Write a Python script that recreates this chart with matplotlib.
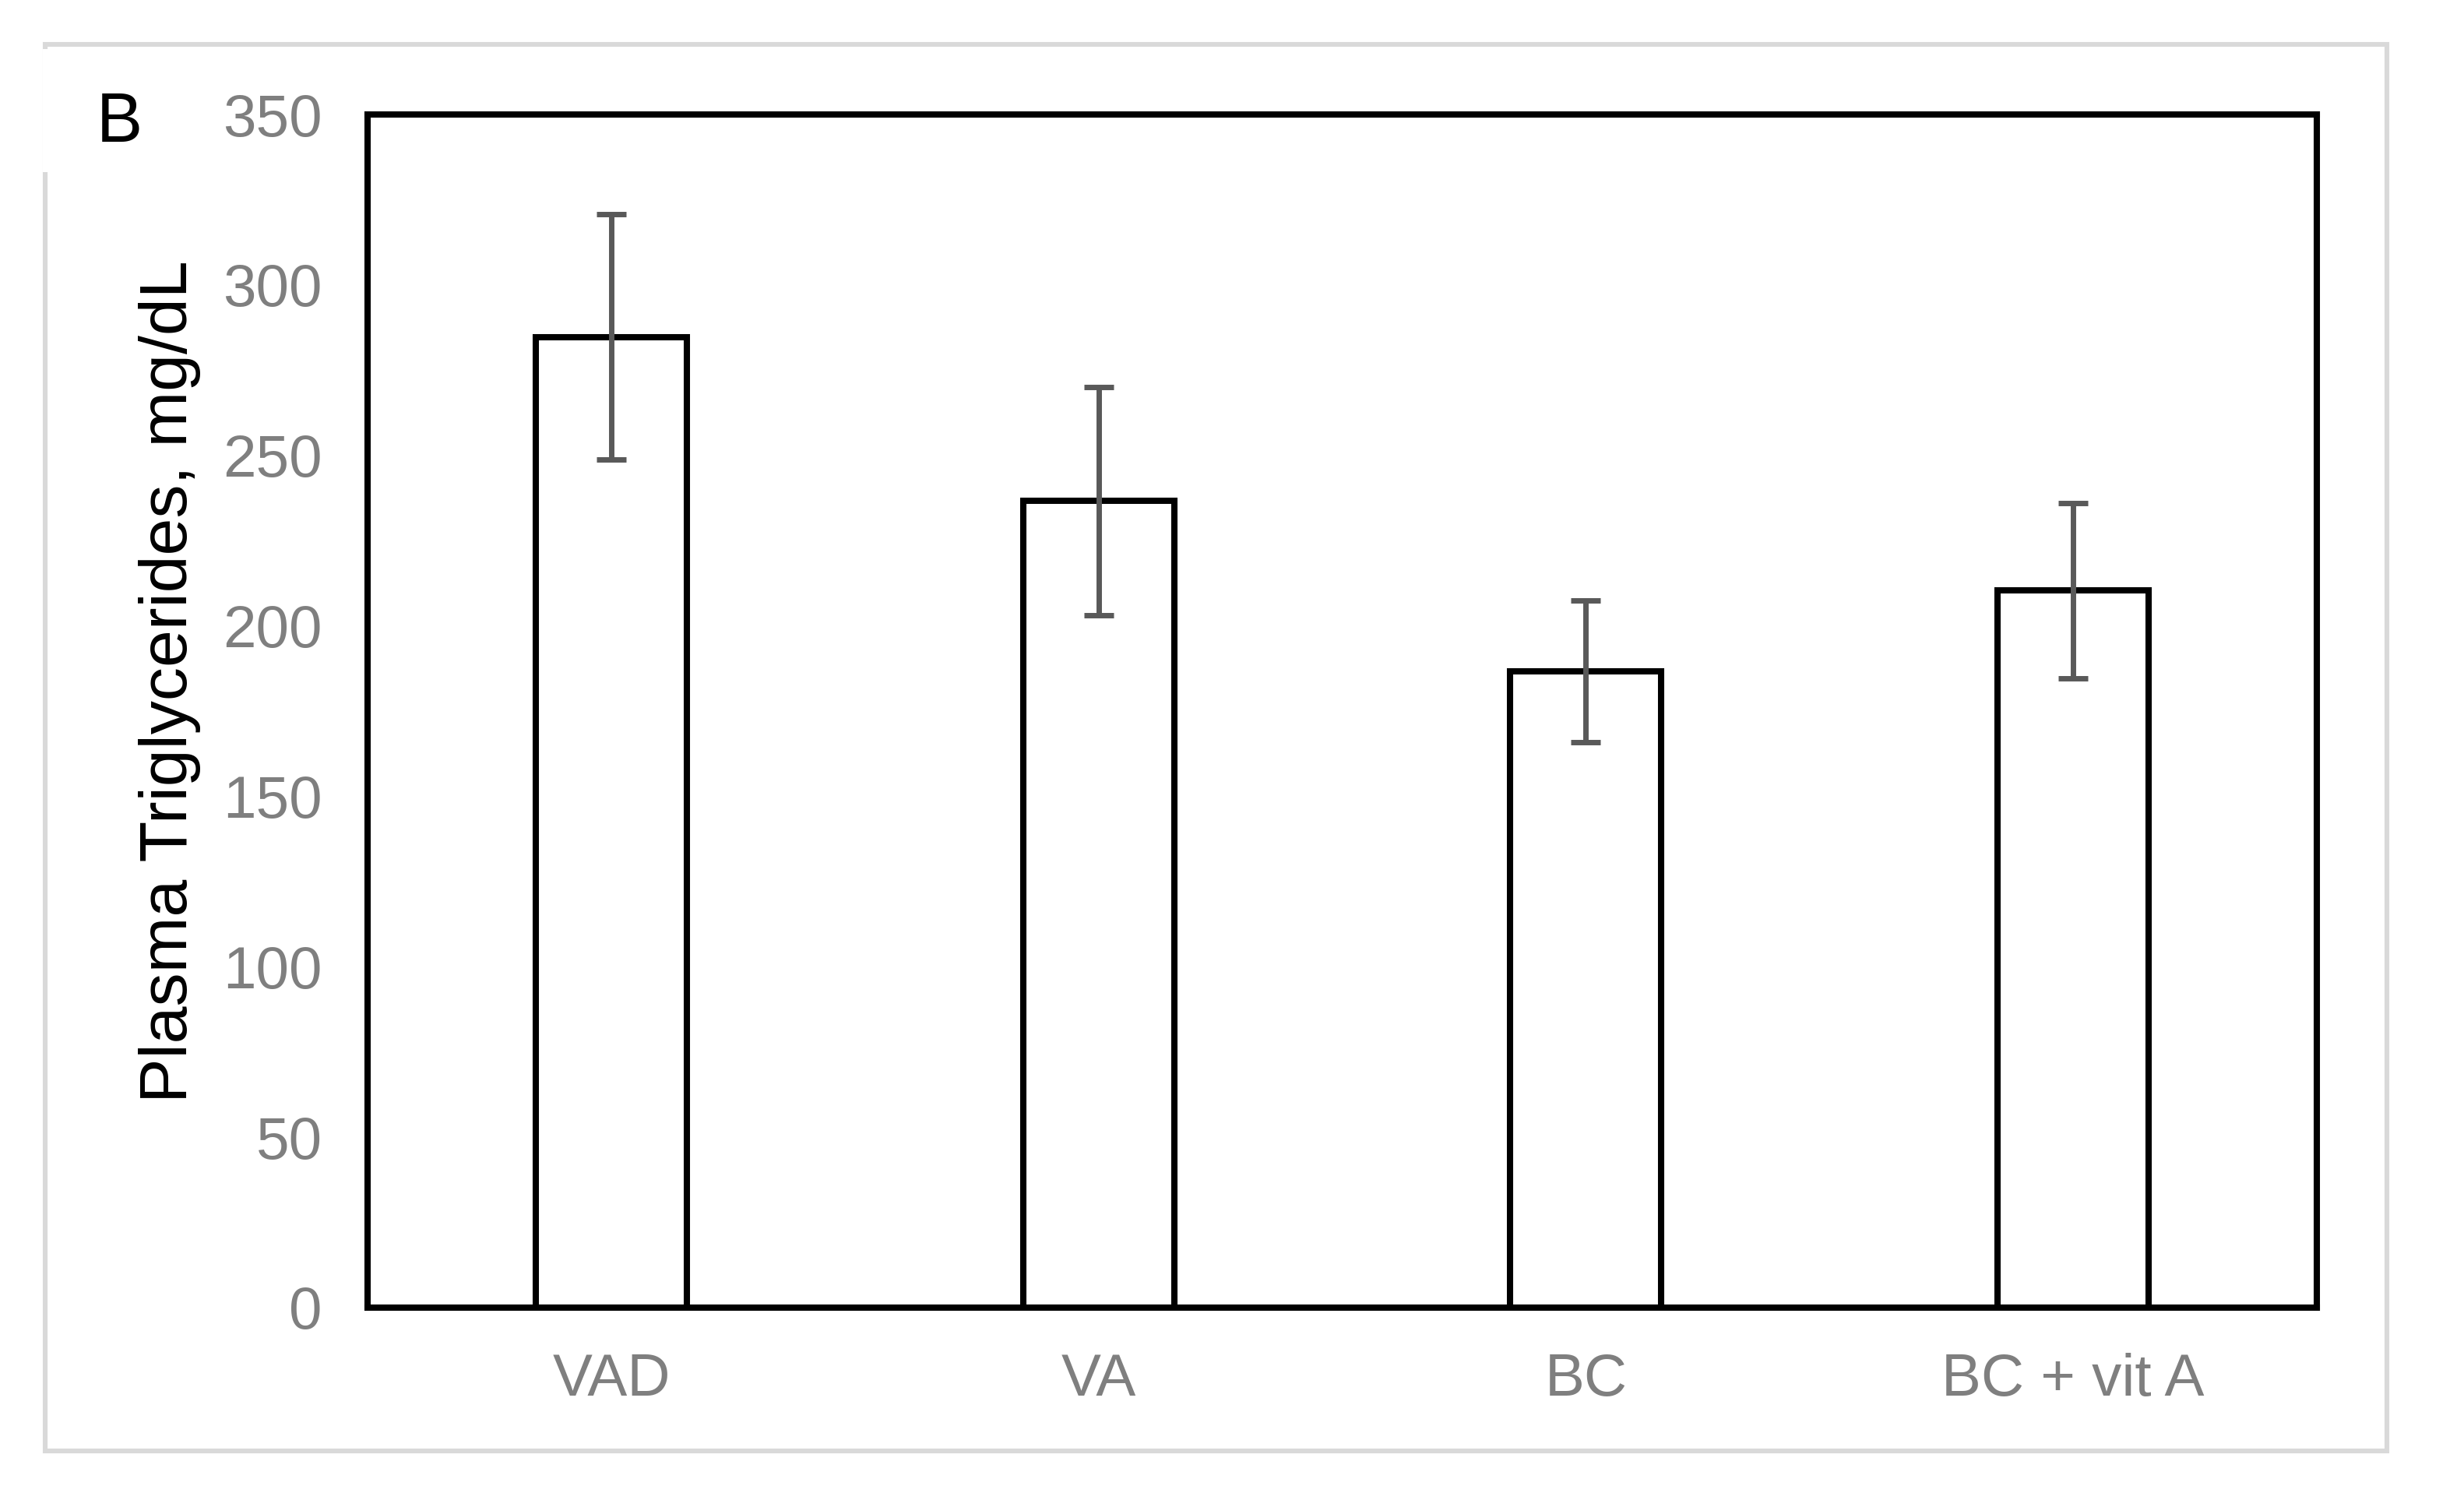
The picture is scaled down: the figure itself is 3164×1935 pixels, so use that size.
import matplotlib
matplotlib.use("Agg")
import matplotlib.pyplot as plt
from matplotlib.patches import Rectangle

plt.rcParams['font.family'] = ['Liberation Sans', 'DejaVu Sans']

# data
groups = ['VAD', 'VA', 'BC', 'BC + vit A']
tg_mean = [284.7, 236.6, 186.7, 210.4]
tg_err = [36.0, 33.4, 20.8, 25.7]
y_ticks = [0, 50, 100, 150, 200, 250, 300, 350]

W, H, DPI = 3164, 1935, 200
fig = plt.figure(figsize=(W / DPI, H / DPI), dpi=DPI)

# light grey frame around the whole panel
frame = Rectangle((0.0182, 0.0372), 0.9687 - 0.0182, 0.9705 - 0.0372,
                  transform=fig.transFigure, fill=False,
                  edgecolor='#D9D9D9', linewidth=2.2, zorder=0)
fig.patches.append(frame)
# white box behind the panel letter (it hides part of the frame)
fig.patches.append(Rectangle((0.0175, 0.886), 0.05, 0.0815,
                             transform=fig.transFigure, facecolor='white',
                             edgecolor='none', zorder=1))

ax = fig.add_axes([0.1492, 0.1323, 0.9403 - 0.1492, 0.924 - 0.1323])
x = range(len(groups))
ax.bar(x, tg_mean, width=0.31, color='white', edgecolor='black',
       linewidth=2.9, zorder=2)
ax.errorbar(x, tg_mean, yerr=tg_err, fmt='none', ecolor='#595959',
            elinewidth=2.5, capsize=6.8, capthick=2.5, zorder=3)

ax.set_xlim(-0.5, len(groups) - 0.5)
ax.set_ylim(0, 350)
ax.set_yticks(y_ticks)
ax.set_xticks(list(x))
ax.set_xticklabels(groups)
for s in ax.spines.values():
    s.set_linewidth(2.9)
    s.set_color('black')
ax.tick_params(axis='both', length=0, labelsize=27.5, labelcolor='#7F7F7F')
ax.tick_params(axis='y', pad=21)
ax.tick_params(axis='x', pad=21)

fig.text(218 / W, 1 - 875 / H, 'Plasma Triglycerides, mg/dL', rotation=90,
         ha='center', va='center', fontsize=31, color='black')
fig.text(124 / W, 1 - 182 / H, 'B', ha='left', va='baseline',
         fontsize=32, color='black', zorder=5)

fig.savefig('out.png', dpi=DPI, facecolor='white')
